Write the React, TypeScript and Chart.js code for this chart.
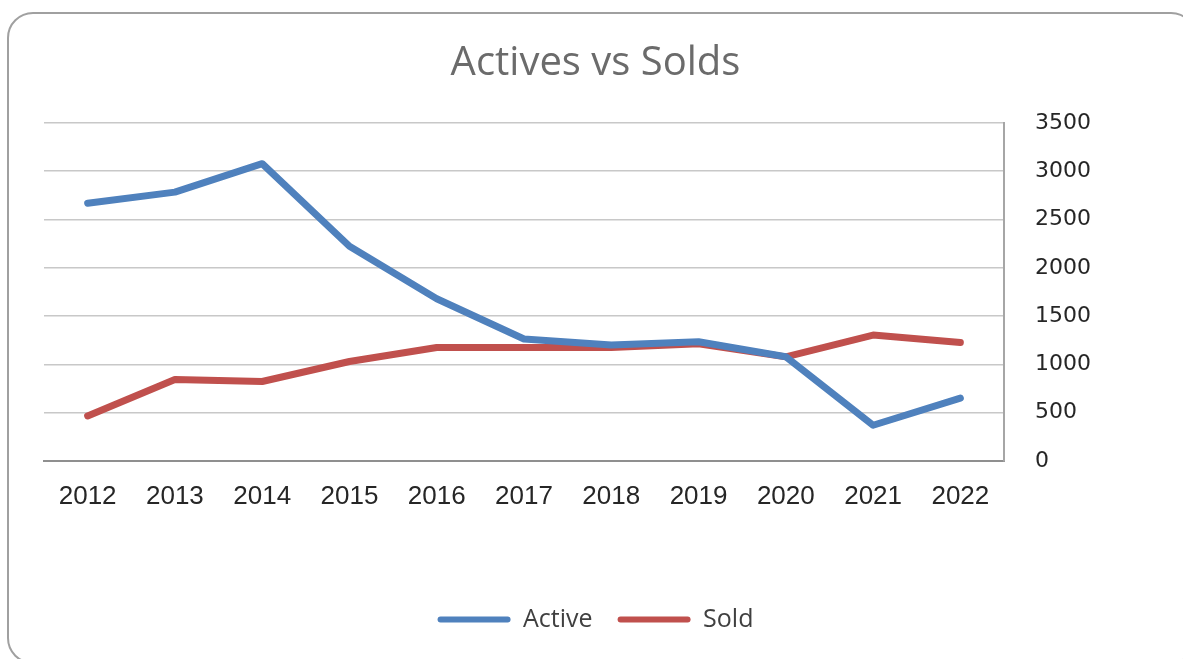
import React, { useEffect, useRef } from "react";
import { Chart, registerables } from "chart.js";

Chart.register(...registerables);

const years = ["2012", "2013", "2014", "2015", "2016", "2017", "2018", "2019", "2020", "2021", "2022"];
const activeValues = [2670, 2784, 3079, 2224, 1680, 1263, 1200, 1235, 1080, 370, 652];
const soldValues = [467, 844, 823, 1030, 1176, 1176, 1176, 1215, 1078, 1304, 1228];
const yTicks = [0, 500, 1000, 1500, 2000, 2500, 3000, 3500];

export default function App() {
  const canvasRef = useRef<HTMLCanvasElement | null>(null);

  useEffect(() => {
    if (!canvasRef.current) return;
    const chart = new Chart(canvasRef.current, {
      type: "line",
      data: {
        labels: years,
        datasets: [
          {
            label: "Active",
            data: activeValues,
            borderColor: "#4f81bd",
            backgroundColor: "#4f81bd",
            borderWidth: 7,
            borderCapStyle: "round",
            borderJoinStyle: "round",
            pointRadius: 0,
            tension: 0,
            yAxisID: "y",
          },
          {
            label: "Sold",
            data: soldValues,
            borderColor: "#c0504d",
            backgroundColor: "#c0504d",
            borderWidth: 7,
            borderCapStyle: "round",
            borderJoinStyle: "round",
            pointRadius: 0,
            tension: 0,
            yAxisID: "y",
          },
        ],
      },
      options: {
        animation: false,
        responsive: true,
        maintainAspectRatio: false,
        layout: { padding: { left: 0, right: 0, top: 0, bottom: 17 } },
        plugins: {
          title: {
            display: true,
            text: "Actives vs Solds",
            color: "#6b6b6b",
            font: { family: "'Open Sans'", size: 40, weight: "normal" },
            padding: { top: 28, bottom: 35 },
          },
          legend: {
            position: "bottom",
            labels: {
              boxWidth: 73,
              boxHeight: 6,
              color: "#404040",
              font: { family: "'Open Sans'", size: 25 },
              padding: 25,
              useBorderRadius: true,
              borderRadius: 3,
              generateLabels: (c: any) =>
                c.data.datasets.map((ds: any, i: number) => ({
                  text: ds.label,
                  fillStyle: ds.borderColor,
                  strokeStyle: ds.borderColor,
                  lineWidth: 0,
                  borderRadius: 3,
                  datasetIndex: i,
                  hidden: false,
                  fontColor: "#404040",
                })),
            },
          },
          tooltip: { enabled: false },
        },
        scales: {
          x: {
            offset: true,
            grid: { display: false, drawTicks: false },
            border: { display: true, color: "#8f8f8f", width: 2 },
            ticks: {
              color: "#262626",
              font: { family: "'Liberation Sans'", size: 26 },
              padding: 20,
              maxRotation: 0,
              autoSkip: false,
            },
            afterFit: (s: any) => {
              s.height = 121;
            },
          },
          yl: {
            type: "linear",
            position: "left",
            display: true,
            grid: { display: false, drawTicks: false },
            border: { display: false },
            ticks: { display: false },
            afterFit: (s: any) => {
              s.width = 36;
            },
          },
          y: {
            position: "right",
            min: 0,
            max: 3500,
            afterBuildTicks: (s: any) => {
              s.ticks = yTicks.map((v) => ({ value: v }));
            },
            grid: { color: "#c8c8c8", lineWidth: 1.6, drawTicks: false },
            border: { display: true, color: "#a6a6a6", width: 2 },
            ticks: {
              color: "#262626",
              font: { family: "'DejaVu Sans'", size: 22 },
              padding: 31,
              callback: (v: any) => String(v),
            },
            afterFit: (s: any) => {
              s.width = 179;
            },
          },
        },
      },
    });
    return () => chart.destroy();
  }, []);

  return (
    <div>
      <div
        style={{
          position: "fixed",
          left: 7,
          top: 12,
          width: 1190,
          height: 652,
          border: "2px solid #a0a0a0",
          borderRadius: 26,
          boxSizing: "border-box",
          background: "#ffffff",
        }}
      />
      <div style={{ position: "fixed", left: 8, top: 12, width: 1175, height: 647 }}>
        <canvas ref={canvasRef} />
      </div>
    </div>
  );
}
